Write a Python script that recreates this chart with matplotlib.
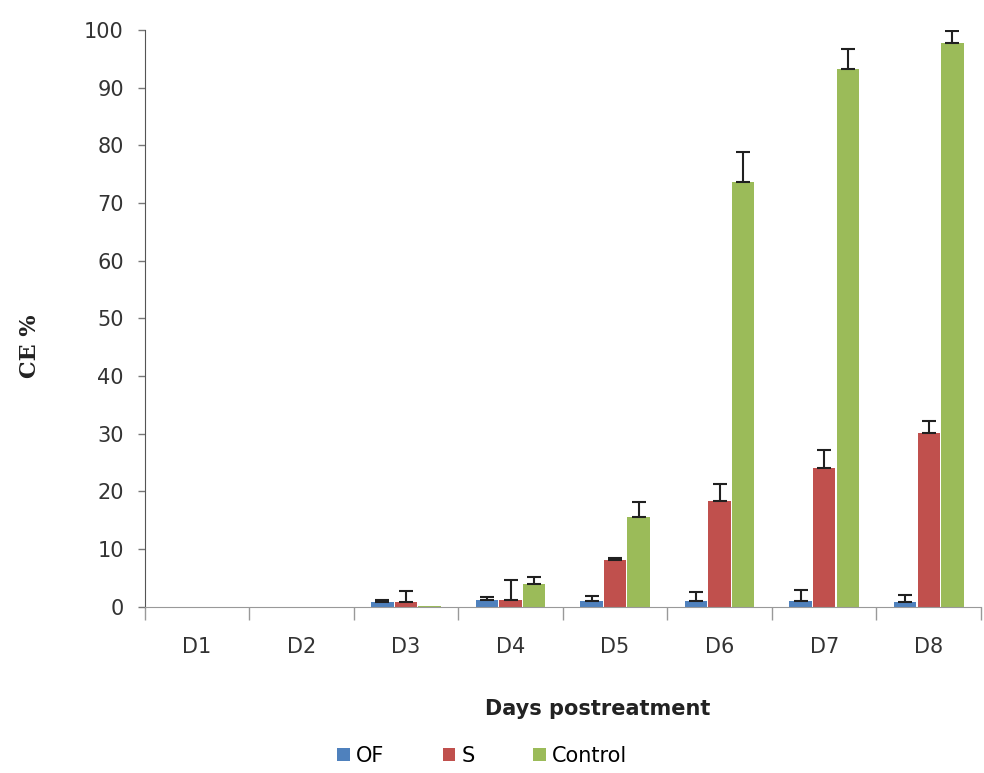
import matplotlib
matplotlib.use("Agg")
from matplotlib import pyplot as plt
import numpy as np

##-----------------------------------------------------------------------------

days = ["D1", "D2", "D3", "D4", "D5", "D6", "D7", "D8"]

of_vals = [0, 0, 0.8, 1.2, 1.0, 1.0, 1.0, 0.8]
of_err = [0, 0, 0.3, 0.5, 0.8, 1.6, 1.9, 1.2]

s_vals = [0, 0, 0.8, 1.2, 8.1, 18.3, 24.1, 30.2]
s_err = [0, 0, 2.0, 3.4, 0.4, 3.0, 3.1, 2.0]

ctrl_vals = [0, 0, 0.1, 4.0, 15.6, 73.6, 93.3, 97.8]
ctrl_err = [0, 0, 0, 1.1, 2.6, 5.2, 3.4, 2.0]

series_names = ["OF", "S", "Control"]
colors = ["#4F81BD", "#C0504D", "#9BBB59"]

##-----------------------------------------------------------------------------

fig = plt.figure(figsize=(9.84, 7.73), dpi=100)
ax = fig.add_axes([0.147, 0.215, 0.85, 0.746])

x = np.arange(len(days))
w = 0.215
step = 0.225

series = [(of_vals, of_err), (s_vals, s_err), (ctrl_vals, ctrl_err)]
handles = []
for i, (vals, err) in enumerate(series):
    pos = x + (i - 1) * step
    h = ax.bar(pos, vals, width=w, color=colors[i], label=series_names[i], zorder=2)
    handles.append(h)
    # only draw error bars where there is an error
    err = np.array(err)
    vals = np.array(vals)
    keep = err > 0
    yerr = np.array([np.zeros(keep.sum()), err[keep]])
    ax.errorbar(pos[keep], vals[keep], yerr=yerr, fmt="none", ecolor="#202020",
                elinewidth=1.5, capsize=5, capthick=1.5, zorder=3)

ax.set_xlim(-0.5, len(days) - 0.5)
ax.set_ylim(0, 100)
ax.set_yticks(np.arange(0, 101, 10))
ax.set_xticks(x)
ax.set_xticklabels(days)
ax.set_xticks(np.arange(-0.5, len(days), 1), minor=True)

ax.tick_params(axis="x", which="major", length=0, pad=22, labelsize=15, colors="#333333")
ax.tick_params(axis="x", which="minor", length=9, width=1, color="#999999", direction="out")
ax.tick_params(axis="y", which="major", length=5, width=1, color="#777777",
               labelsize=15, labelcolor="#333333", pad=10)

ax.spines["top"].set_visible(False)
ax.spines["right"].set_visible(False)
ax.spines["left"].set_color("#555555")
ax.spines["bottom"].set_color("#999999")

fig.text(0.607, 0.083, "Days postreatment", ha="center", va="center",
         fontsize=15, fontweight="bold", color="#222222")
fig.text(0.030, 0.552, "CE %", rotation=90, ha="center", va="center",
         fontsize=16, fontweight="bold", family="DejaVu Serif", color="#222222")

fig.legend(handles=handles, labels=series_names, loc="center", bbox_to_anchor=(0.49, 0.022),
           ncol=3, frameon=False, fontsize=15, handlelength=0.6, handleheight=0.6,
           handletextpad=0.3, columnspacing=2.8)

fig.savefig("out.png", dpi=100)
